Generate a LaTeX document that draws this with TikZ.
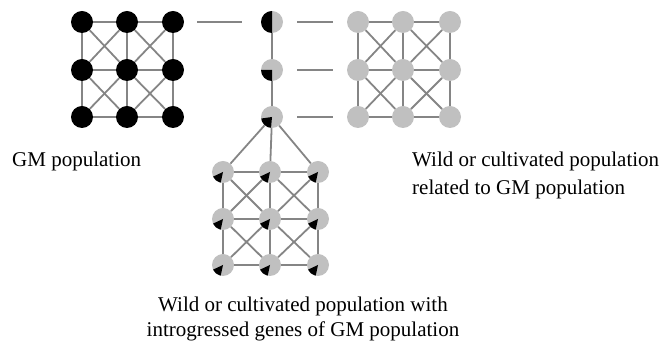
\documentclass[tikz,border=0pt]{standalone}
\usepackage{fontspec}
\setmainfont{Liberation Serif}
\definecolor{silver}{HTML}{C0C0C0}
\definecolor{linkgray}{HTML}{858585}

\begin{document}
\begin{tikzpicture}[x=1pt, y=1pt,
        plant/.style={circle, minimum size=22pt, inner sep=0pt, fill=silver},
        gmplant/.style={plant, fill=black},
        blackpart/.style 2 args={path picture={
            \fill[black] (path picture bounding box.center) -- ++(#1:11pt)
                arc[start angle=#1, end angle=#2, radius=11pt] -- cycle;}},
        link/.style={draw=linkgray, line width=1.8pt},
        label/.style={font=\fontsize{21}{25}\selectfont, inner sep=0pt}]

        \useasboundingbox (0,0) rectangle (665,342);

        % GM population
        \node[gmplant] (g11) at (82, 320) {};
        \node[gmplant] (g12) at (127, 320) {};
        \node[gmplant] (g13) at (173, 320) {};
        \node[gmplant] (g21) at (82, 272) {};
        \node[gmplant] (g22) at (127, 272) {};
        \node[gmplant] (g23) at (173, 272) {};
        \node[gmplant] (g31) at (82, 225) {};
        \node[gmplant] (g32) at (127, 225) {};
        \node[gmplant] (g33) at (173, 225) {};

        % hybrids
        \node[plant, blackpart={90}{270}] (m1) at (272, 320) {};
        \node[plant, blackpart={180}{270}] (m2) at (272, 272) {};
        \node[plant, blackpart={188}{265}] (m3) at (272, 225) {};

        % wild or cultivated population
        \node[plant] (w11) at (358, 320) {};
        \node[plant] (w12) at (403, 320) {};
        \node[plant] (w13) at (450, 320) {};
        \node[plant] (w21) at (358, 272) {};
        \node[plant] (w22) at (403, 272) {};
        \node[plant] (w23) at (450, 272) {};
        \node[plant] (w31) at (358, 225) {};
        \node[plant] (w32) at (403, 225) {};
        \node[plant] (w33) at (450, 225) {};

        % introgressed population
        \node[plant, blackpart={205}{258}] (i11) at (223, 170) {};
        \node[plant, blackpart={205}{258}] (i12) at (270, 170) {};
        \node[plant, blackpart={205}{258}] (i13) at (318, 170) {};
        \node[plant, blackpart={205}{258}] (i21) at (223, 123) {};
        \node[plant, blackpart={205}{258}] (i22) at (270, 123) {};
        \node[plant, blackpart={205}{258}] (i23) at (318, 123) {};
        \node[plant, blackpart={205}{258}] (i31) at (223, 77) {};
        \node[plant, blackpart={205}{258}] (i32) at (270, 77) {};
        \node[plant, blackpart={205}{258}] (i33) at (318, 77) {};

        \draw[link] (g11) -- (g12) -- (g13);
        \draw[link] (g21) -- (g22) -- (g23);
        \draw[link] (g31) -- (g32) -- (g33);
        \draw[link] (g11) -- (g21) -- (g31);
        \draw[link] (g12) -- (g22) -- (g32);
        \draw[link] (g13) -- (g23) -- (g33);
        \draw[link] (g11) -- (g22) -- (g33);
        \draw[link] (g13) -- (g22) -- (g31);
        \draw[link] (g12) -- (g21);
        \draw[link] (g12) -- (g23);
        \draw[link] (g21) -- (g32);
        \draw[link] (g23) -- (g32);

        \draw[link] (w11) -- (w12) -- (w13);
        \draw[link] (w21) -- (w22) -- (w23);
        \draw[link] (w31) -- (w32) -- (w33);
        \draw[link] (w11) -- (w21) -- (w31);
        \draw[link] (w12) -- (w22) -- (w32);
        \draw[link] (w13) -- (w23) -- (w33);
        \draw[link] (w11) -- (w22) -- (w33);
        \draw[link] (w13) -- (w22) -- (w31);
        \draw[link] (w12) -- (w21);
        \draw[link] (w12) -- (w23);
        \draw[link] (w21) -- (w32);
        \draw[link] (w23) -- (w32);

        \draw[link] (i11) -- (i12) -- (i13);
        \draw[link] (i21) -- (i22) -- (i23);
        \draw[link] (i31) -- (i32) -- (i33);
        \draw[link] (i11) -- (i21) -- (i31);
        \draw[link] (i12) -- (i22) -- (i32);
        \draw[link] (i13) -- (i23) -- (i33);
        \draw[link] (i11) -- (i22) -- (i33);
        \draw[link] (i13) -- (i22) -- (i31);
        \draw[link] (i12) -- (i21);
        \draw[link] (i12) -- (i23);
        \draw[link] (i21) -- (i32);
        \draw[link] (i23) -- (i32);

        % crossing
        \draw[link, shorten <=13pt, shorten >=19pt] (g13) -- (m1);
        \draw[link] (m1) -- (m2) -- (m3);
        \draw[link, shorten <=14pt, shorten >=14pt] (m1) -- (w11);
        \draw[link, shorten <=14pt, shorten >=14pt] (m2) -- (w21);
        \draw[link, shorten <=14pt, shorten >=14pt] (m3) -- (w31);
        \draw[link] (m3) -- (i11);
        \draw[link] (m3) -- (i12);
        \draw[link] (m3) -- (i13);

        \node[label, anchor=base west] (gmtext) at (12, 175) {GM population};
        \node[label, anchor=base west, align=left,
              font=\fontsize{21}{28}\selectfont] (wildtext) at (412, 147)
              {Wild or cultivated population\\related to GM population};
        \node[label, anchor=base, align=center] (introtext) at (303, 5)
              {Wild or cultivated population with\\introgressed genes of GM population};

    \end{tikzpicture}
\end{document}
